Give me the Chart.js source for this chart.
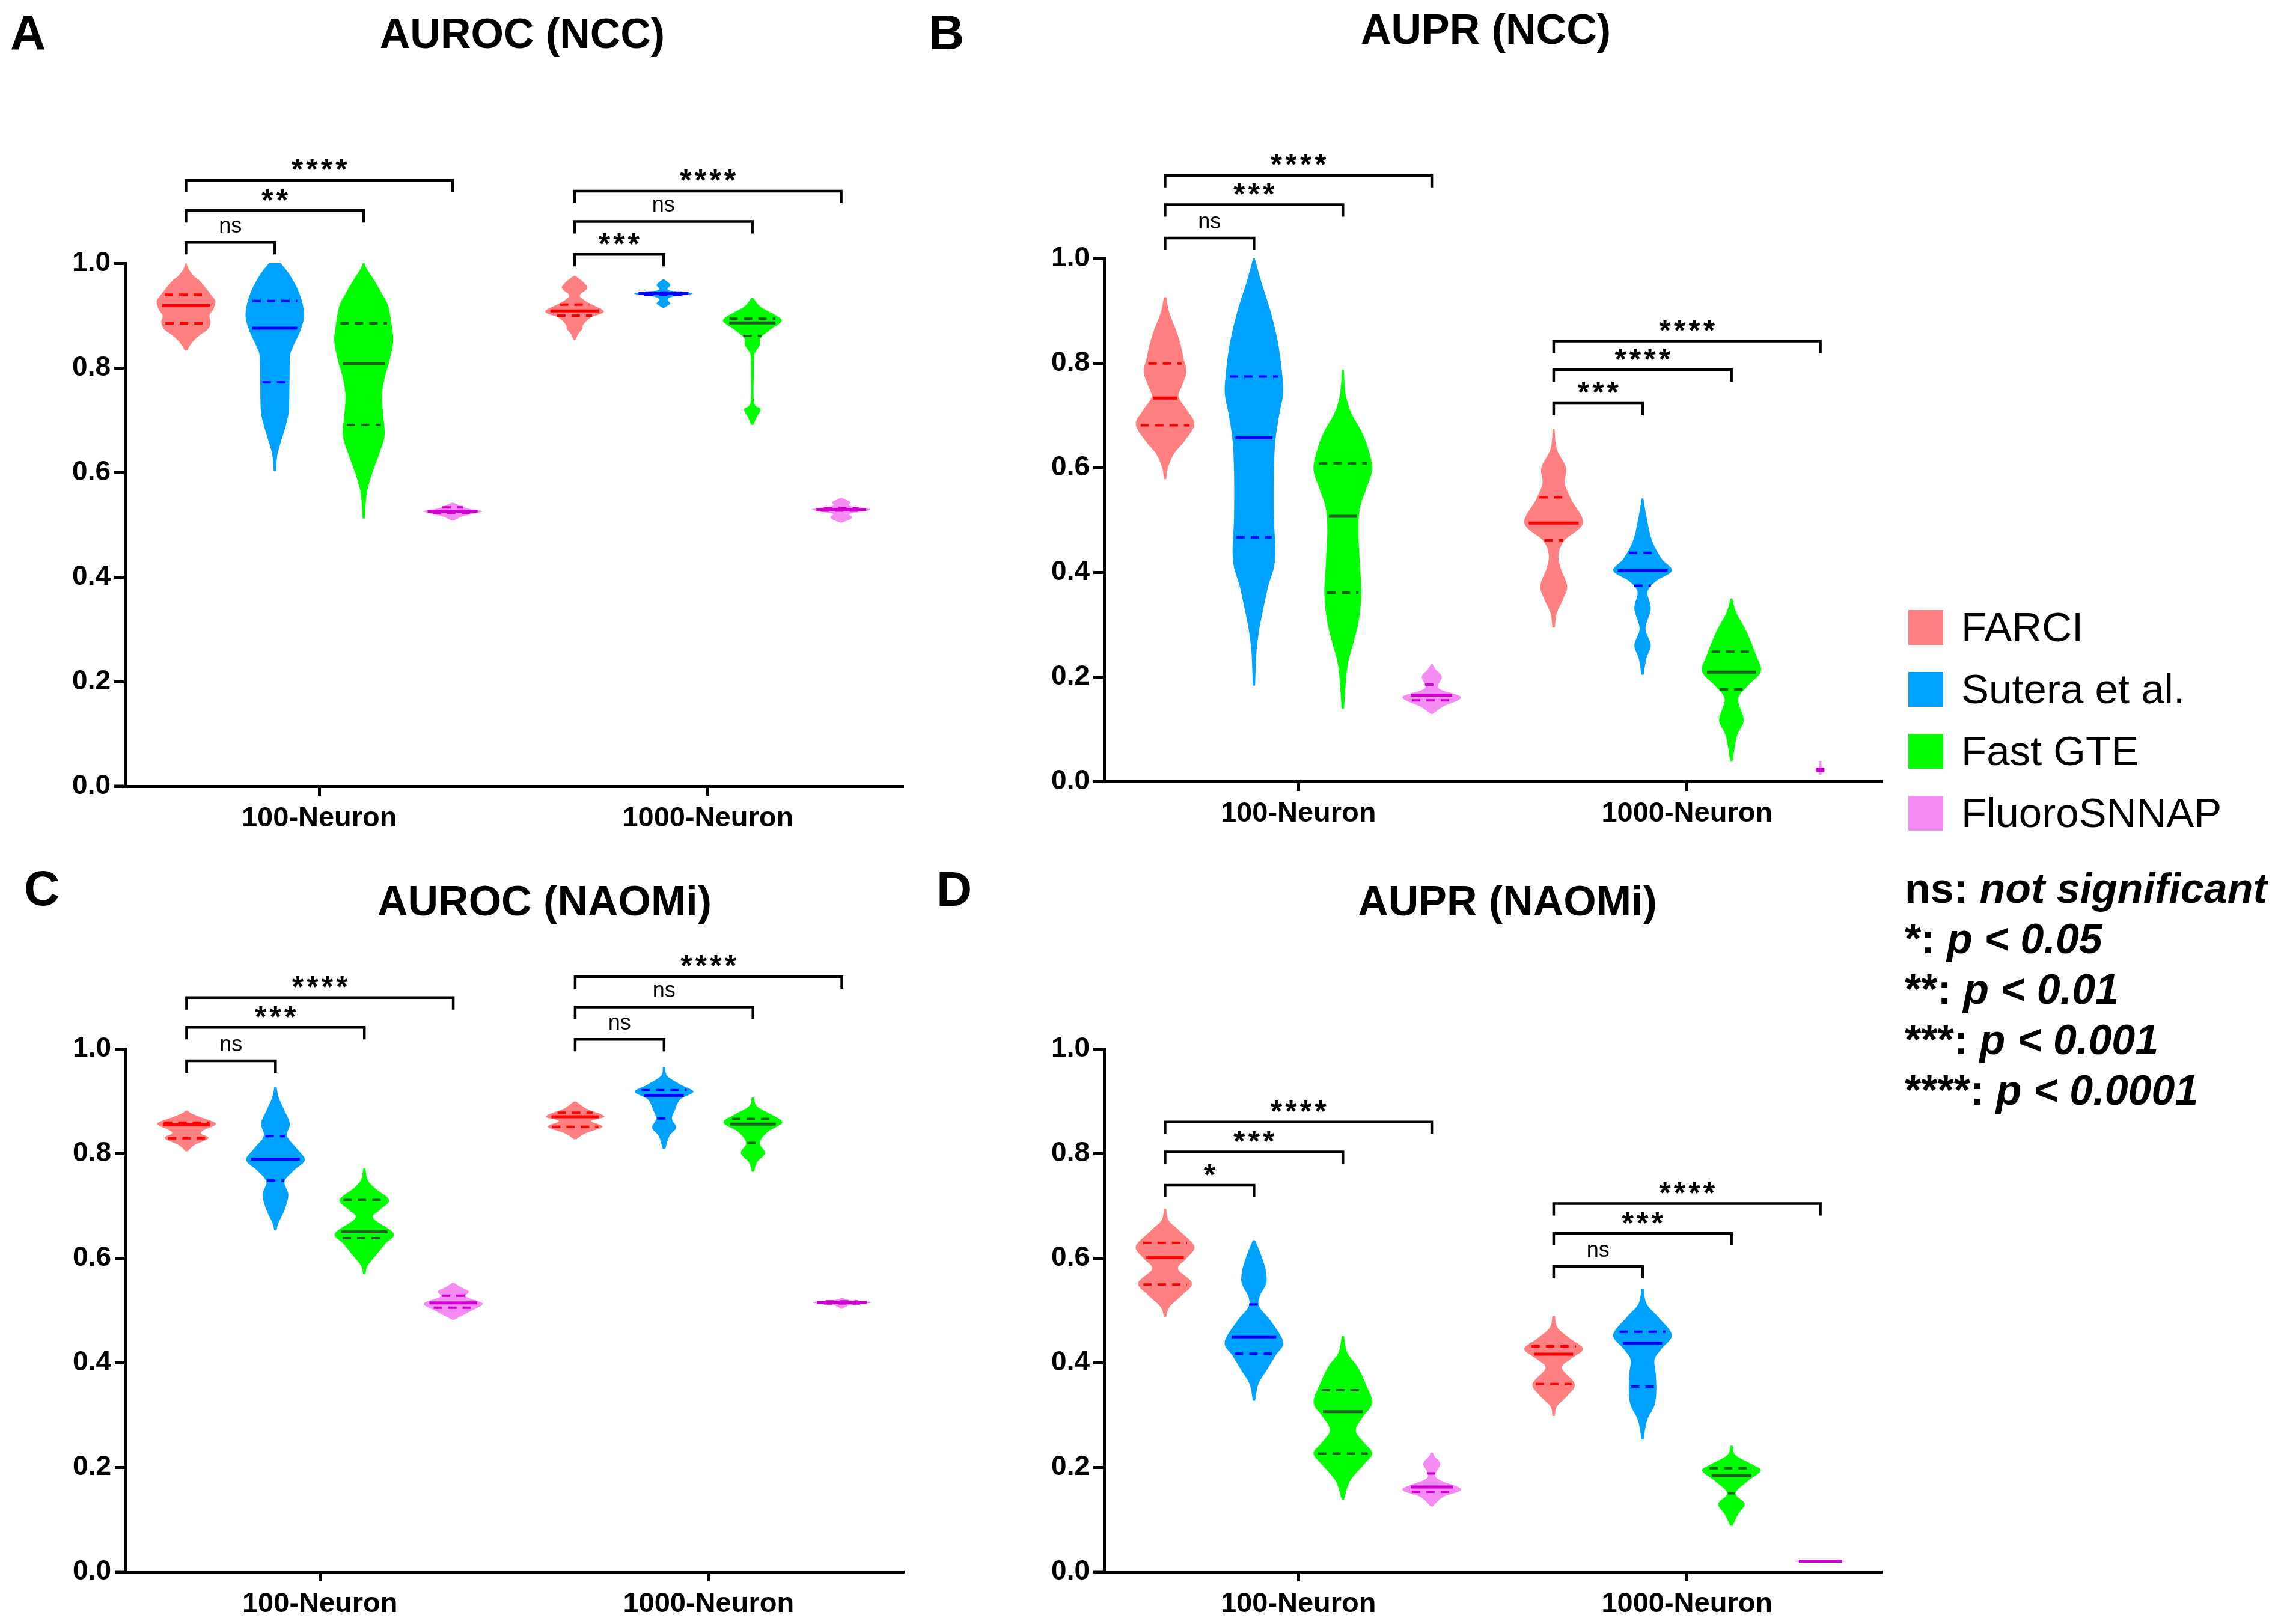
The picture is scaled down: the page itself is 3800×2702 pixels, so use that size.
<!DOCTYPE html>
<html>
<head>
<meta charset="utf-8">
<script src="https://cdn.jsdelivr.net/npm/chart.js@4.4.1/dist/chart.umd.min.js"></script>
<style>
  html, body { margin: 0; padding: 0; background: #fff; overflow: hidden; }
  body { width: 3800px; height: 2702px; position: relative; font-family: "Liberation Sans", Arial, sans-serif; color: #000; }
  canvas { position: absolute; }
  .letter { position: absolute; font-weight: bold; font-size: 82px; line-height: 82px; }
  .title { position: absolute; font-weight: bold; font-size: 70px; line-height: 70px; transform: translateX(-50%); white-space: nowrap; }
  .leg { position: absolute; left: 3175px; height: 58px; font-size: 69px; line-height: 58px; white-space: nowrap; }
  .leg span { display: inline-block; width: 58px; height: 58px; vertical-align: top; margin-right: 30px; }
  .sig { position: absolute; left: 3169px; font-size: 70px; line-height: 84px; font-weight: bold; white-space: nowrap; }
  .sig i { font-style: italic; }
</style>
</head>
<body>
<div class="letter" style="left:17px;top:13px">A</div>
<div class="letter" style="left:1545px;top:13px">B</div>
<div class="letter" style="left:40px;top:1437px">C</div>
<div class="letter" style="left:1558px;top:1438px">D</div>
<div class="title" style="left:869px;top:21px">AUROC (NCC)</div>
<div class="title" style="left:2472px;top:14px">AUPR (NCC)</div>
<div class="title" style="left:906px;top:1464px">AUROC (NAOMi)</div>
<div class="title" style="left:2508px;top:1464px">AUPR (NAOMi)</div>

<canvas id="cA" width="1521" height="1218" style="left:0px;top:178px;width:1521px;height:1218px"></canvas>
<canvas id="cB" width="1521" height="1218" style="left:1629px;top:170px;width:1521px;height:1218px"></canvas>
<canvas id="cC" width="1521" height="1218" style="left:1px;top:1485px;width:1521px;height:1218px"></canvas>
<canvas id="cD" width="1521" height="1218" style="left:1629px;top:1485px;width:1521px;height:1218px"></canvas>

<div id="legend"></div>
<div id="sigkey"></div>

<script>
const FONT = '"Liberation Sans", Arial, sans-serif';

const groups = ['100-Neuron', '1000-Neuron'];
const methods = ['FARCI', 'Sutera et al.', 'Fast GTE', 'FluoroSNNAP'];
const yTicks = [0, 0.2, 0.4, 0.6, 0.8, 1.0];
const sigKey = [['ns:', 'not significant'], ['*:', 'p < 0.05'], ['**:', 'p < 0.01'], ['***:', 'p < 0.001'], ['****:', 'p < 0.0001']];

const fills = ['#ff8080', '#00a2ff', '#00ff00', '#f48cf4'];
const lineColors = ['#ff0000', '#0000ff', '#1f5f1f', '#cc00cc'];

// ---------- A: AUROC (NCC) ----------
// violin outline: [value, relative half-width], per method then per group
const aurocNccShape = [
  [
    [[0.833,0.04],[0.849,0.22],[0.861,0.44],[0.874,0.75],[0.887,0.84],[0.900,0.80],[0.912,0.93],[0.927,1.0],[0.938,0.88],[0.951,0.70],[0.968,0.44],[0.976,0.26],[0.990,0.08],[1.0,0.02]],
    [[0.853,0.03],[0.866,0.14],[0.874,0.26],[0.883,0.30],[0.896,0.55],[0.908,1.0],[0.925,0.46],[0.938,0.18],[0.952,0.43],[0.963,0.32],[0.976,0.03]]
  ],
  [
    [[0.602,0.04],[0.627,0.07],[0.644,0.13],[0.670,0.27],[0.695,0.40],[0.721,0.48],[0.780,0.50],[0.823,0.52],[0.840,0.62],[0.874,0.89],[0.904,1.0],[0.942,0.84],[0.976,0.53],[1.0,0.20]],
    [[0.915,0.03],[0.923,0.23],[0.930,0.15],[0.936,0.30],[0.942,1.0],[0.947,0.30],[0.951,0.14],[0.959,0.23],[0.969,0.03]]
  ],
  [
    [[0.512,0.04],[0.542,0.07],[0.568,0.13],[0.602,0.31],[0.636,0.53],[0.670,0.71],[0.712,0.66],[0.746,0.62],[0.780,0.71],[0.814,0.88],[0.849,1.0],[0.874,0.97],[0.917,0.84],[0.942,0.62],[0.968,0.35],[0.990,0.10],[1.0,0.03]],
    [[0.691,0.04],[0.706,0.15],[0.721,0.28],[0.734,0.06],[0.790,0.05],[0.823,0.06],[0.832,0.12],[0.844,0.26],[0.857,0.28],[0.874,0.64],[0.889,1.0],[0.900,0.82],[0.917,0.28],[0.934,0.03]]
  ],
  [
    [[0.508,0.05],[0.515,0.30],[0.522,0.80],[0.526,1.0],[0.530,0.60],[0.534,0.35],[0.538,0.20],[0.542,0.03]],
    [[0.504,0.03],[0.510,0.30],[0.515,0.37],[0.521,0.30],[0.529,1.0],[0.536,0.30],[0.543,0.32],[0.548,0.15],[0.551,0.03]]
  ]
];
// [q1, median, q3]
const aurocNccQuart = [
  [[0.885,0.919,0.940],[0.900,0.909,0.921]],
  [[0.772,0.876,0.928],[0.940,0.942,0.944]],
  [[0.691,0.808,0.885],[0.861,0.886,0.894]],
  [[0.522,0.526,0.533],[0.527,0.529,0.532]]
];
// [group, compared method (vs FARCI), bracket value, label]
const aurocNccBrackets = [
  [0,1,1.040,'ns'],[0,2,1.101,'**'],[0,3,1.159,'****'],
  [1,1,1.017,'***'],[1,2,1.080,'ns'],[1,3,1.138,'****']
];

// ---------- B: AUPR (NCC) ----------
const auprNccShape = [
  [
    [[0.578,0.04],[0.600,0.10],[0.626,0.30],[0.652,0.68],[0.683,1.0],[0.710,0.75],[0.735,0.46],[0.757,0.58],[0.783,0.73],[0.809,0.63],[0.835,0.53],[0.861,0.39],[0.896,0.15],[0.926,0.04]],
    [[0.294,0.04],[0.322,0.11],[0.348,0.32],[0.374,0.46],[0.409,0.23],[0.435,0.17],[0.461,0.37],[0.494,1.0],[0.539,0.60],[0.570,0.38],[0.600,0.42],[0.635,0.11],[0.674,0.03]]
  ],
  [
    [[0.183,0.04],[0.243,0.08],[0.287,0.17],[0.322,0.29],[0.374,0.49],[0.409,0.68],[0.443,0.73],[0.504,0.68],[0.591,0.68],[0.652,0.73],[0.704,0.87],[0.739,0.99],[0.774,0.97],[0.835,0.83],[0.896,0.58],[0.957,0.24],[1.0,0.03]],
    [[0.204,0.04],[0.235,0.13],[0.261,0.28],[0.292,0.10],[0.330,0.28],[0.362,0.17],[0.383,0.46],[0.403,1.0],[0.426,0.65],[0.461,0.32],[0.504,0.14],[0.541,0.03]]
  ],
  [
    [[0.139,0.04],[0.217,0.15],[0.261,0.34],[0.304,0.53],[0.357,0.63],[0.417,0.58],[0.478,0.53],[0.522,0.58],[0.557,0.78],[0.596,1.0],[0.635,0.87],[0.670,0.63],[0.704,0.29],[0.739,0.10],[0.787,0.03]],
    [[0.039,0.04],[0.087,0.19],[0.117,0.42],[0.157,0.23],[0.183,0.56],[0.210,1.0],[0.243,0.83],[0.287,0.51],[0.322,0.17],[0.350,0.03]]
  ],
  [
    [[0.129,0.04],[0.143,0.39],[0.161,1.0],[0.178,0.24],[0.200,0.34],[0.215,0.12],[0.224,0.03]],
    [[0.013,0.05],[0.018,0.05],[0.019,0.15],[0.025,0.15],[0.026,0.05],[0.039,0.04]]
  ]
];
const auprNccQuart = [
  [[0.681,0.733,0.799],[0.461,0.494,0.543]],
  [[0.467,0.657,0.774],[0.374,0.403,0.437]],
  [[0.361,0.507,0.608],[0.176,0.209,0.248]],
  [[0.155,0.165,0.185],[0.020,0.022,0.024]]
];
const auprNccBrackets = [
  [0,1,1.039,'ns'],[0,2,1.103,'***'],[0,3,1.159,'****'],
  [1,1,0.723,'***'],[1,2,0.787,'****'],[1,3,0.842,'****']
];

// ---------- C: AUROC (NAOMi) ----------
const aurocNaomiShape = [
  [
    [[0.804,0.04],[0.816,0.27],[0.829,0.75],[0.838,0.50],[0.845,0.60],[0.857,1.0],[0.870,0.44],[0.877,0.15],[0.882,0.04]],
    [[0.827,0.04],[0.839,0.37],[0.851,0.93],[0.862,0.55],[0.871,1.0],[0.886,0.37],[0.899,0.04]]
  ],
  [
    [[0.653,0.04],[0.668,0.11],[0.692,0.31],[0.721,0.44],[0.746,0.31],[0.767,0.62],[0.787,1.0],[0.808,0.75],[0.833,0.40],[0.857,0.49],[0.882,0.31],[0.907,0.11],[0.927,0.04]],
    [[0.808,0.04],[0.833,0.18],[0.849,0.41],[0.866,0.27],[0.882,0.36],[0.903,0.55],[0.918,1.0],[0.932,0.55],[0.948,0.11],[0.965,0.04]]
  ],
  [
    [[0.569,0.04],[0.585,0.11],[0.602,0.35],[0.627,0.71],[0.647,1.0],[0.676,0.31],[0.692,0.53],[0.711,0.84],[0.734,0.35],[0.750,0.11],[0.771,0.04]],
    [[0.765,0.04],[0.783,0.14],[0.801,0.41],[0.820,0.23],[0.841,0.50],[0.859,1.0],[0.874,0.64],[0.890,0.14],[0.907,0.04]]
  ],
  [
    [[0.482,0.04],[0.499,0.62],[0.513,1.0],[0.526,0.44],[0.536,0.53],[0.546,0.20],[0.552,0.04]],
    [[0.503,0.03],[0.510,0.30],[0.515,1.0],[0.519,0.30],[0.523,0.03]]
  ]
];
const aurocNaomiQuart = [
  [[0.829,0.855,0.859],[0.851,0.870,0.878]],
  [[0.748,0.789,0.833],[0.867,0.911,0.921]],
  [[0.638,0.650,0.711],[0.820,0.856,0.866]],
  [[0.505,0.514,0.528],[0.513,0.515,0.517]]
];
const aurocNaomiBrackets = [
  [0,1,0.977,'ns'],[0,2,1.041,'***'],[0,3,1.098,'****'],
  [1,1,1.018,'ns'],[1,2,1.080,'ns'],[1,3,1.138,'****']
];

// ---------- D: AUPR (NAOMi) ----------
const auprNaomiShape = [
  [
    [[0.487,0.04],[0.506,0.15],[0.529,0.58],[0.552,0.92],[0.579,0.44],[0.599,0.73],[0.622,1.0],[0.652,0.49],[0.672,0.12],[0.694,0.04]],
    [[0.298,0.04],[0.316,0.11],[0.336,0.46],[0.359,0.72],[0.389,0.28],[0.406,0.56],[0.426,1.0],[0.446,0.56],[0.466,0.14],[0.489,0.04]]
  ],
  [
    [[0.327,0.04],[0.359,0.15],[0.386,0.44],[0.413,0.73],[0.439,1.0],[0.479,0.58],[0.506,0.19],[0.526,0.19],[0.552,0.42],[0.579,0.39],[0.606,0.24],[0.634,0.04]],
    [[0.253,0.04],[0.273,0.09],[0.293,0.18],[0.319,0.41],[0.346,0.47],[0.379,0.45],[0.406,0.41],[0.426,0.64],[0.453,1.0],[0.486,0.55],[0.512,0.14],[0.541,0.04]]
  ],
  [
    [[0.138,0.04],[0.173,0.24],[0.203,0.68],[0.226,1.0],[0.246,0.73],[0.270,0.44],[0.296,0.68],[0.323,1.0],[0.359,0.78],[0.393,0.49],[0.419,0.15],[0.451,0.04]],
    [[0.088,0.04],[0.110,0.23],[0.130,0.45],[0.150,0.14],[0.173,0.55],[0.193,1.0],[0.206,0.68],[0.223,0.14],[0.241,0.04]]
  ],
  [
    [[0.125,0.04],[0.143,0.39],[0.158,1.0],[0.180,0.15],[0.206,0.29],[0.220,0.10],[0.228,0.04]],
    [[0.017,0.04],[0.019,0.80],[0.020,0.86],[0.021,0.80],[0.023,0.04]]
  ]
];
const auprNaomiQuart = [
  [[0.549,0.601,0.629],[0.359,0.416,0.431]],
  [[0.417,0.449,0.511],[0.354,0.437,0.459]],
  [[0.226,0.306,0.347],[0.150,0.184,0.198]],
  [[0.153,0.162,0.188],[0.0195,0.020,0.0205]]
];
const auprNaomiBrackets = [
  [0,1,0.739,'*'],[0,2,0.803,'***'],[0,3,0.860,'****'],
  [1,1,0.584,'ns'],[1,2,0.647,'***'],[1,3,0.704,'****']
];

// ---------- helpers ----------
function curveThrough(ctx, p) {
  for (let i = 0; i < p.length - 1; i++) {
    const p0 = p[i - 1] || p[i], p1 = p[i], p2 = p[i + 1], p3 = p[i + 2] || p2;
    ctx.bezierCurveTo(p1.x + (p2.x - p0.x) / 6, p1.y + (p2.y - p0.y) / 6,
                      p2.x - (p3.x - p1.x) / 6, p2.y - (p3.y - p1.y) / 6, p2.x, p2.y);
  }
}

function widthAt(prof, v) {
  for (let i = 0; i < prof.length - 1; i++) {
    const [a, wa] = prof[i], [b, wb] = prof[i + 1];
    if (v >= a && v <= b) return wa + (wb - wa) * (v - a) / (b - a || 1);
  }
  return 0;
}

// draws violins + significance brackets on top of the (invisible) floating bars
const violinPlugin = {
  id: 'violins',
  afterDraw(chart, args, opts) {
    const ctx = chart.ctx, y = chart.scales.y, area = chart.chartArea;
    ctx.save();

    // x axis runs on a little past the y axis, like the original
    ctx.beginPath();
    ctx.lineWidth = 5;
    ctx.strokeStyle = '#000';
    ctx.moveTo(area.left - 18, area.bottom);
    ctx.lineTo(area.left, area.bottom);
    ctx.stroke();

    chart.data.datasets.forEach((ds, m) => {
      chart.getDatasetMeta(m).data.forEach((bar, g) => {
        const prof = opts.shapes[m][g];
        const half = bar.width / 2;
        const right = prof.map(([v, w]) => ({ x: bar.x + w * half, y: y.getPixelForValue(v) }));
        const left = prof.map(([v, w]) => ({ x: bar.x - w * half, y: y.getPixelForValue(v) })).reverse();
        ctx.beginPath();
        ctx.moveTo(right[0].x, right[0].y);
        curveThrough(ctx, right);
        ctx.lineTo(left[0].x, left[0].y);
        curveThrough(ctx, left);
        ctx.closePath();
        ctx.fillStyle = fills[m];
        ctx.fill();

        opts.quarts[m][g].forEach((q, k) => {
          const w = Math.max(widthAt(prof, q) * half * 0.85, 4);
          const py = y.getPixelForValue(q);
          ctx.beginPath();
          ctx.setLineDash(k === 1 ? [] : [14, 10]);
          ctx.lineWidth = k === 1 ? 5 : 4;
          ctx.strokeStyle = lineColors[m];
          ctx.moveTo(bar.x - w, py);
          ctx.lineTo(bar.x + w, py);
          ctx.stroke();
        });
      });
    });
    ctx.setLineDash([]);

    opts.brackets.forEach(([g, to, v, label]) => {
      const a = chart.getDatasetMeta(0).data[g], b = chart.getDatasetMeta(to).data[g];
      const py = y.getPixelForValue(v);
      ctx.beginPath();
      ctx.lineWidth = 4.5;
      ctx.strokeStyle = '#000';
      ctx.lineJoin = 'miter';
      ctx.moveTo(a.x, py + 20);
      ctx.lineTo(a.x, py);
      ctx.lineTo(b.x, py);
      ctx.lineTo(b.x, py + 20);
      ctx.stroke();

      const ns = label === 'ns';
      ctx.font = ns ? '36px ' + FONT : 'bold 50px ' + FONT;
      const sp = ns ? 0 : 5;
      if ('letterSpacing' in ctx) ctx.letterSpacing = sp + 'px';
      const mt = ctx.measureText(label);
      const cy = py - 26;
      const base = cy + (mt.actualBoundingBoxAscent - mt.actualBoundingBoxDescent) / 2;
      ctx.fillStyle = '#000';
      ctx.textAlign = 'center';
      ctx.textBaseline = 'alphabetic';
      ctx.fillText(label, (a.x + b.x) / 2 + sp / 2, base);
      if ('letterSpacing' in ctx) ctx.letterSpacing = '0px';
    });
    ctx.restore();
  }
};

function makePanel(id, shapes, quarts, brackets) {
  return new Chart(document.getElementById(id), {
    type: 'bar',
    data: {
      labels: groups,
      datasets: methods.map((name, m) => ({
        label: name,
        data: groups.map((_, g) => [shapes[m][g][0][0], shapes[m][g][shapes[m][g].length - 1][0]]),
        backgroundColor: 'rgba(0,0,0,0)',
        borderWidth: 0,
        categoryPercentage: 0.915,
        barPercentage: 0.66
      }))
    },
    options: {
      responsive: false,
      animation: false,
      devicePixelRatio: 1,
      layout: { padding: { top: 260, right: 20, bottom: 0, left: 0 } },
      plugins: {
        legend: { display: false },
        tooltip: { enabled: false },
        violins: { shapes, quarts, brackets }
      },
      scales: {
        x: {
          type: 'category',
          offset: true,
          grid: { display: true, drawOnChartArea: false, drawTicks: true, tickLength: 16, offset: false, lineWidth: 5, color: '#000' },
          border: { display: true, width: 5, color: '#000' },
          ticks: { font: { family: FONT, size: 47, weight: 'bold' }, color: '#000', padding: 10, maxRotation: 0 },
          afterFit: s => { s.height = 88; }
        },
        y: {
          min: 0,
          max: 1,
          afterBuildTicks: s => { s.ticks = yTicks.map(v => ({ value: v })); },
          grid: { drawOnChartArea: false, drawTicks: true, tickLength: 18, lineWidth: 5, color: '#000' },
          border: { display: true, width: 5, color: '#000' },
          ticks: { callback: v => Number(v).toFixed(1), font: { family: FONT, size: 46, weight: 'bold' }, color: '#000', padding: 6 },
          afterFit: s => { s.width = 208; }
        }
      }
    },
    plugins: [violinPlugin]
  });
}

makePanel('cA', aurocNccShape, aurocNccQuart, aurocNccBrackets);
makePanel('cB', auprNccShape, auprNccQuart, auprNccBrackets);
makePanel('cC', aurocNaomiShape, aurocNaomiQuart, aurocNaomiBrackets);
makePanel('cD', auprNaomiShape, auprNaomiQuart, auprNaomiBrackets);

// ---------- LEGEND ----------
const legend = document.getElementById('legend');
methods.forEach((name, m) => {
  const row = document.createElement('div');
  row.className = 'leg';
  row.style.top = (1015 + m * 103) + 'px';
  const sw = document.createElement('span');
  sw.style.background = fills[m];
  row.appendChild(sw);
  row.appendChild(document.createTextNode(name));
  legend.appendChild(row);
});

const key = document.getElementById('sigkey');
sigKey.forEach(([sym, txt], i) => {
  const row = document.createElement('div');
  row.className = 'sig';
  row.style.top = (1436 + i * 84) + 'px';
  row.innerHTML = sym + ' <i>' + txt.replace('<', '&lt;') + '</i>';
  key.appendChild(row);
});
</script>
</body>
</html>
